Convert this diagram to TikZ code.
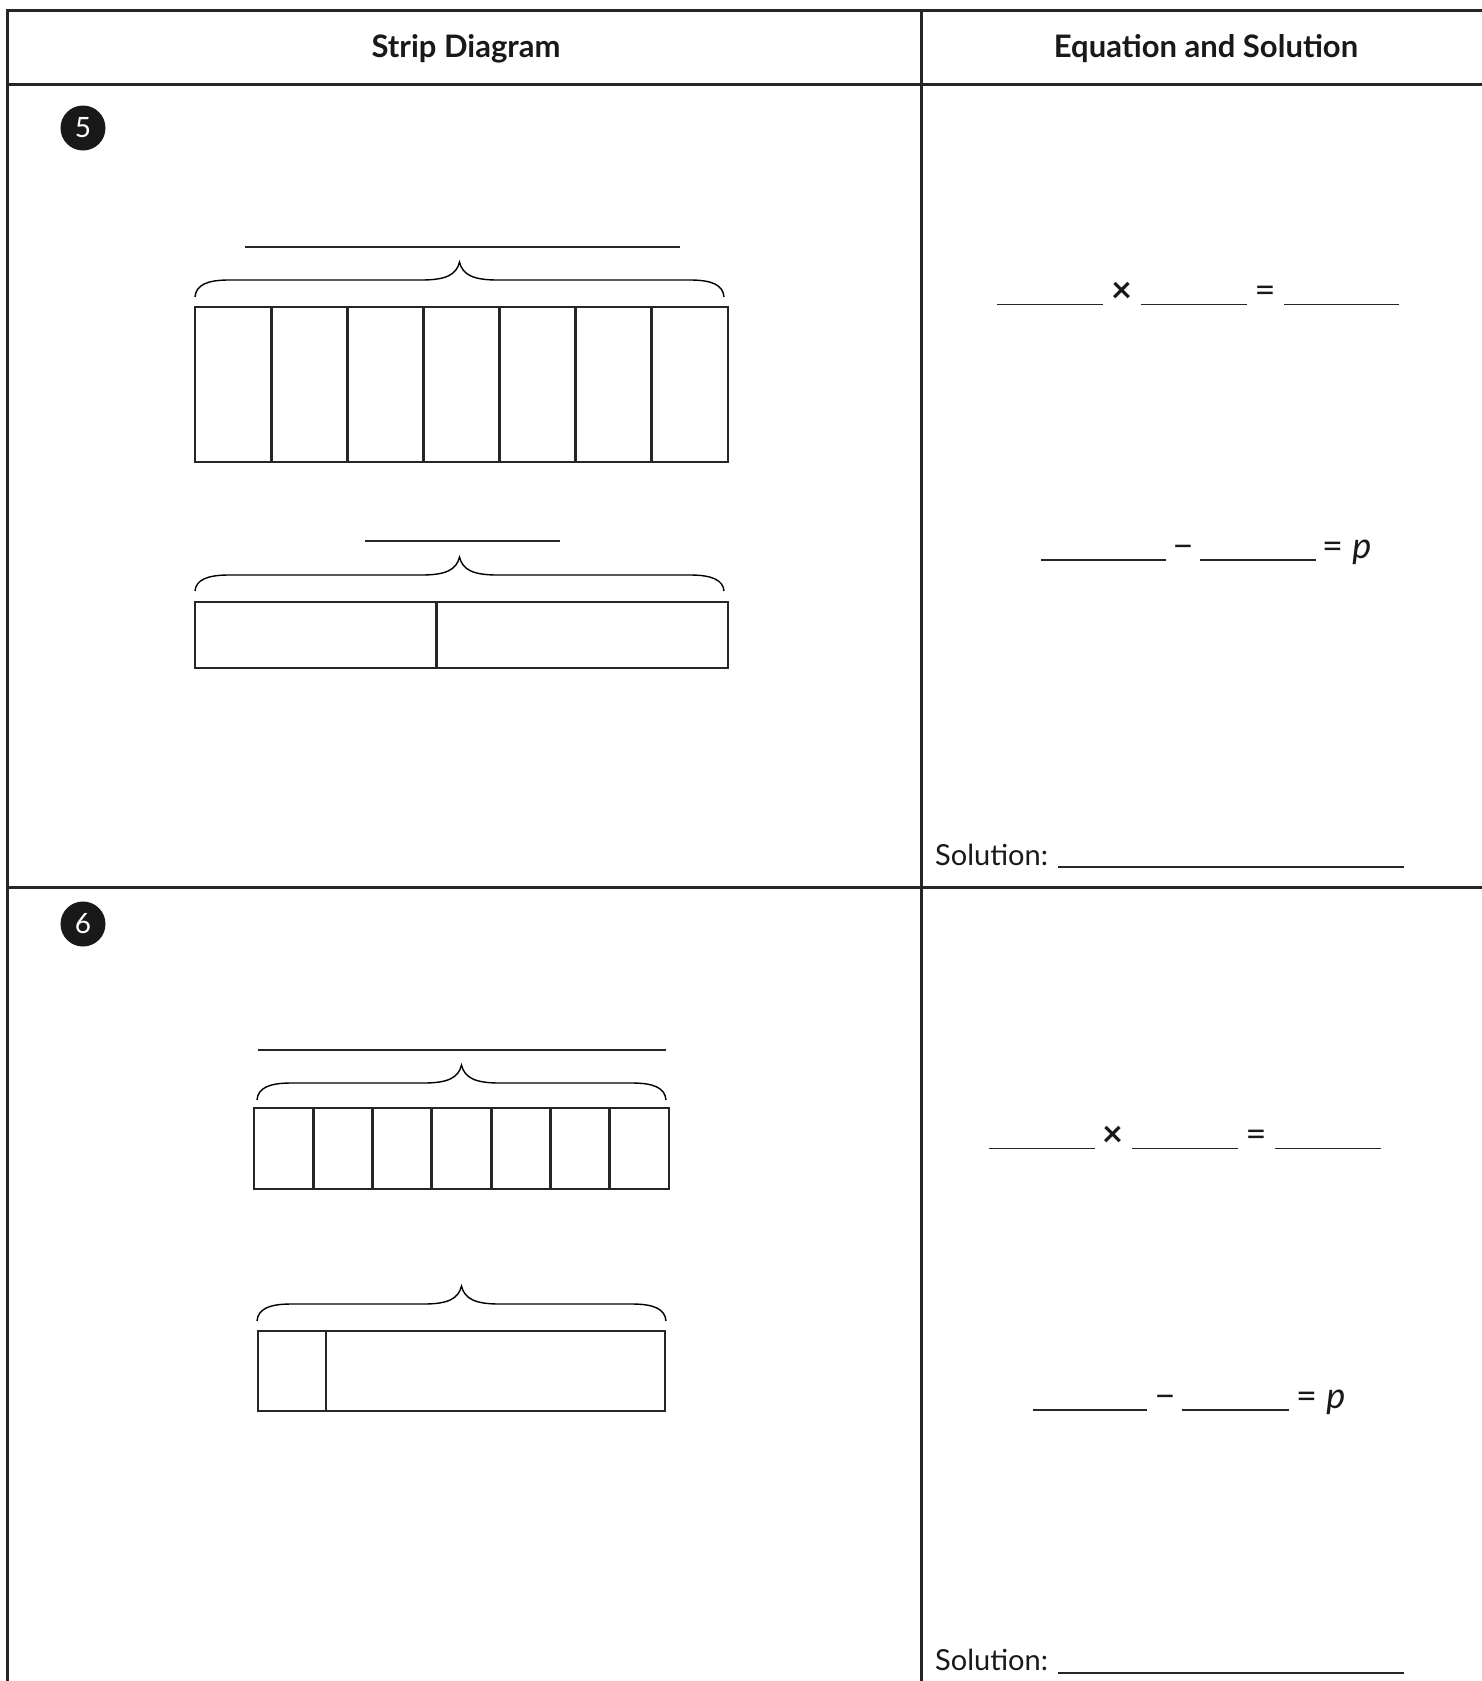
\documentclass[tikz,border=0pt]{standalone}
\usepackage{fontspec}
\setmainfont{Lato}
\newcommand\stripbrace[5]{% L R E F T
  \draw[bracestyle] (#1,#3) .. controls ({#1+1},{#4+5}) and ({#1+12},#4) .. ({#1+34},#4)
    -- ({(#1+#2)/2-38},#4) .. controls ({(#1+#2)/2-14},#4) and ({(#1+#2)/2-3},{#4-5}) .. ({(#1+#2)/2},#5)
    .. controls ({(#1+#2)/2+3},{#4-5}) and ({(#1+#2)/2+14},#4) .. ({(#1+#2)/2+38},#4)
    -- ({#2-34},#4) .. controls ({#2-12},#4) and ({#2-1},{#4+5}) .. (#2,#3);}
\begin{document}
\begin{tikzpicture}[x=1pt,y=-1pt,
  gridline/.style={line width=3pt, draw=black!85, line cap=rect},
  stripbox/.style={line width=2.8pt, draw=black!85},
  bracestyle/.style={line width=1.4pt, draw=black},
  blank/.style={line width=1.7pt, draw=black!85},
  headtxt/.style={font=\fontsize{31}{36}\selectfont\bfseries, inner sep=0, text=black!90},
  eqtxt/.style={font=\fontsize{29}{34}\selectfont, inner sep=0, anchor=base, text=black!90},
  eqsym/.style={font=\fontsize{36}{40}\selectfont, inner sep=0, anchor=base, text=black!90},
  numdot/.style={circle, fill=black!90, minimum size=45pt, inner sep=0, text=white,
    font=\fontsize{28}{32}\selectfont}]
\useasboundingbox (0,0) rectangle (1482,1681);
\fill[white] (0,0) rectangle (1482,1681);

% table grid
\draw[gridline] (7.5,1690) -- (7.5,10) -- (1490,10);
\draw[gridline] (7.5,84) -- (1490,84);
\draw[gridline] (7.5,887) -- (1490,887);
\draw[gridline] (921,10) -- (921,1690);

% headers
\node[headtxt] (h1) at (466,49) {Strip Diagram};
\node[headtxt] (h2) at (1206,49) {Equation and Solution};

% problem numbers
\node[numdot] (n5) at (83,128) {5};
\node[numdot] (n6) at (83,924) {6};

% ---------- Problem 5 strips ----------
\draw[blank] (245,247) -- (680,247);
\stripbrace{195}{724}{297}{280}{262}
\draw[stripbox] (195,307) rectangle (728,462);
\foreach \i in {1,...,6} \draw[stripbox] ({195+\i*76.14},307) -- ({195+\i*76.14},462);

\draw[blank] (365,541) -- (560,541);
\stripbrace{195}{724}{591}{575}{557}
\draw[stripbox] (195,602) rectangle (728,668);
\draw[stripbox] (436.5,602) -- (436.5,668);

% ---------- Problem 6 strips ----------
\draw[blank] (258,1050) -- (666,1050);
\stripbrace{257}{666}{1100}{1083}{1065}
\draw[stripbox] (254,1108) rectangle (669,1189);
\foreach \i in {1,...,6} \draw[stripbox] ({254+\i*59.29},1108) -- ({254+\i*59.29},1189);

\stripbrace{257}{666}{1321}{1304}{1286}
\draw[stripbox] (258,1331) rectangle (665,1411);
\draw[stripbox] (326,1331) -- (326,1411);

% ---------- Problem 5 equations ----------
\draw[blank] (997,304.5) -- (1103,304.5);
\node[eqsym] (m5) at (1122,302) {\bfseries ×};
\draw[blank] (1141,304.5) -- (1247,304.5);
\node[eqsym] (e5) at (1265,302) {=};
\draw[blank] (1284,304.5) -- (1399,304.5);

\draw[blank] (1041,560) -- (1166,560);
\node[eqsym] (s5) at (1183,558) {−};
\draw[blank] (1200,560) -- (1316,560);
\node[eqsym, anchor=base west] (p5) at (1322,558) {= \textit{p}};

\node[eqtxt, anchor=base west] (sol5) at (935,865) {Solution:};
\draw[blank] (1058,867) -- (1404,867);

% ---------- Problem 6 equations ----------
\draw[blank] (989,1148.5) -- (1095,1148.5);
\node[eqsym] (m6) at (1113,1146) {\bfseries ×};
\draw[blank] (1132,1148.5) -- (1238,1148.5);
\node[eqsym] (e6) at (1256,1146) {=};
\draw[blank] (1275,1148.5) -- (1381,1148.5);

\draw[blank] (1033,1410) -- (1147,1410);
\node[eqsym] (s6) at (1165,1408) {−};
\draw[blank] (1182,1410) -- (1289,1410);
\node[eqsym, anchor=base west] (p6) at (1296,1408) {= \textit{p}};

\node[eqtxt, anchor=base west] (sol6) at (935,1670) {Solution:};
\draw[blank] (1058,1673) -- (1404,1673);
\end{tikzpicture}
\end{document}
